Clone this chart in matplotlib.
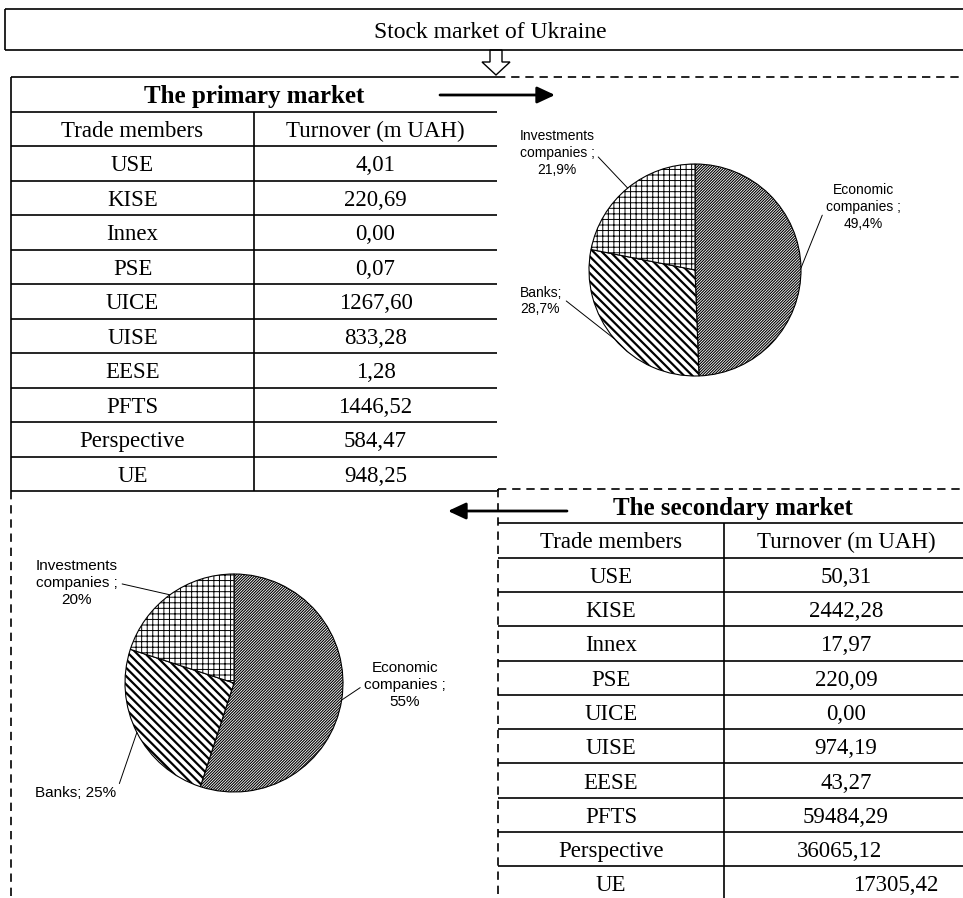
import matplotlib
matplotlib.use("Agg")
import numpy as np
import matplotlib.pyplot as plt
from matplotlib.patches import Polygon

members = ["USE", "KISE", "Innex", "PSE", "UICE", "UISE", "EESE", "PFTS", "Perspective", "UE"]
primary_turnover = [4.01, 220.69, 0.00, 0.07, 1267.60, 833.28, 1.28, 1446.52, 584.47, 948.25]
secondary_turnover = [50.31, 2442.28, 17.97, 220.09, 0.00, 974.19, 43.27, 59484.29, 36065.12, 17305.42]

owners = ["Economic companies", "Banks", "Investments companies"]
primary_shares = [49.4, 28.7, 21.9]
secondary_shares = [55, 25, 20]

W, H = 963, 898
SERIF = "Liberation Serif"
SANS = "Liberation Sans"
LW = 1.2
DASH = (0, (5, 3.5))
FS = 16.5

fig = plt.figure(figsize=(W / 100, H / 100), dpi=100)
ax = fig.add_axes([0, 0, 1, 1])
ax.set_xlim(0, W)
ax.set_ylim(H, 0)
ax.axis("off")


def fmt(v):
    return f"{v:.2f}".replace(".", ",")


def line(x, y, dashed=False, lw=LW):
    ax.plot(x, y, color="black", lw=lw, ls=DASH if dashed else "-",
            solid_capstyle="butt")


def table(x0, xm, x1, y0, rh, title, values, left_dashed=False,
          top_dashed=False, shift=None):
    shift = shift or {}
    n = len(values) + 2
    yb = y0 + n * rh
    line([x0, x1], [y0, y0], dashed=top_dashed)
    for k in range(1, n + 1):
        line([x0, x1], [y0 + k * rh] * 2)
    line([x0, x0], [y0, yb], dashed=left_dashed)
    line([xm, xm], [y0 + rh, yb])
    ax.text((x0 + x1) / 2, y0 + rh / 2, title, family=SERIF, weight="bold",
            fontsize=18, ha="center", va="center_baseline")
    c1, c2 = (x0 + xm) / 2, (xm + x1) / 2
    ax.text(c1, y0 + 1.5 * rh, "Trade members", family=SERIF, fontsize=FS,
            ha="center", va="center_baseline")
    ax.text(c2, y0 + 1.5 * rh, "Turnover (m UAH)", family=SERIF,
            fontsize=FS, ha="center", va="center_baseline")
    for i, (m, v) in enumerate(zip(members, values)):
        yc = y0 + (i + 2.5) * rh
        ax.text(c1, yc, m, family=SERIF, fontsize=FS, ha="center",
                va="center_baseline")
        ax.text(c2 + shift.get(i, 0), yc, fmt(v), family=SERIF, fontsize=FS,
                ha="center", va="center_baseline")
    return yb


def pie(cx, cy, r, shares, texts, text_pos, aligns, relpos, fs):
    pad = 1.04
    pax = fig.add_axes([(cx - r * pad) / W, 1 - (cy + r * pad) / H,
                        2 * r * pad / W, 2 * r * pad / H])
    wedges, _ = pax.pie(shares, startangle=90, counterclock=False, radius=1,
                        wedgeprops=dict(facecolor="white", edgecolor="black",
                                        linewidth=0.8))
    pax.set_xlim(-pad, pad)
    pax.set_ylim(-pad, pad)
    for w, h, hl in zip(wedges, ["/" * 12, "\\" * 4, "+++"], [0.8, 1.6, 0.7]):
        w.set_hatch(h)
        try:
            w.set_hatch_linewidth(hl)
        except AttributeError:
            pass
    for w, t, pos, ha, rp in zip(wedges, texts, text_pos, aligns, relpos):
        mid = np.deg2rad((w.theta1 + w.theta2) / 2)
        pax.annotate(t, xy=(np.cos(mid), np.sin(mid)), xycoords="data",
                     xytext=pos, textcoords=ax.transData, family=SANS,
                     fontsize=fs, ha=ha, va="center", multialignment=ha,
                     linespacing=1.25, annotation_clip=False,
                     arrowprops=dict(arrowstyle="-", color="black", lw=0.7,
                                     relpos=rp, shrinkA=1, shrinkB=0))


def pct(v, d):
    return f"{v:.{d}f}".replace(".", ",") + "%"


# header box and hollow arrow
line([5, W], [9, 9])
line([5, W], [50, 50])
line([5, 5], [9, 50])
ax.text(490, 30, "Stock market of Ukraine", family=SERIF, fontsize=17,
        ha="center", va="center_baseline")
ax.add_patch(Polygon([(490, 50), (502, 50), (502, 62), (510, 62), (496, 75),
                      (482, 62), (490, 62)], closed=True, facecolor="white",
                     edgecolor="black", lw=1.0))

# primary market table
yb1 = table(11, 254, 497, 77, 34.5, "The primary market", primary_turnover)
line([497, W], [77, 77], dashed=True)
line([11, 11], [yb1, H], dashed=True)

# secondary market table
table(498, 724, W + 5, 489, 34.3, "The secondary market", secondary_turnover,
      left_dashed=True, top_dashed=True, shift={8: -7, 9: 50})
line([498, 498], [yb1, 489], dashed=True)

# arrows between blocks
head = dict(arrowstyle="-|>,head_length=0.6,head_width=0.28", color="black",
            lw=2.0, mutation_scale=18, shrinkA=0, shrinkB=0)
ax.annotate("", xy=(555, 95), xytext=(440, 95), arrowprops=head)
ax.annotate("", xy=(448, 511), xytext=(567, 511), arrowprops=head)

# pies
p1 = [f"{owners[0].replace(' ', chr(10))} ;\n{pct(primary_shares[0], 1)}",
      f"{owners[1]};\n{pct(primary_shares[1], 1)}",
      f"{owners[2].replace(' ', chr(10))} ;\n{pct(primary_shares[2], 1)}"]
pie(695, 270, 106, primary_shares, p1,
    [(863, 207), (520, 301), (557, 153)], ["center", "left", "center"],
    [(0, 0.5), (1, 0.6), (1, 0.5)], 10)

p2 = [f"{owners[0].replace(' ', chr(10))} ;\n{pct(secondary_shares[0], 0)}",
      f"{owners[1]}; {pct(secondary_shares[1], 0)}",
      f"{owners[2].replace(' ', chr(10))} ;\n{pct(secondary_shares[2], 0)}"]
pie(234, 683, 109, secondary_shares, p2,
    [(405, 685), (35, 793), (77, 583)], ["center", "left", "center"],
    [(0, 0.5), (1, 0.5), (1, 0.5)], 11)

fig.savefig("out.png", dpi=100)
